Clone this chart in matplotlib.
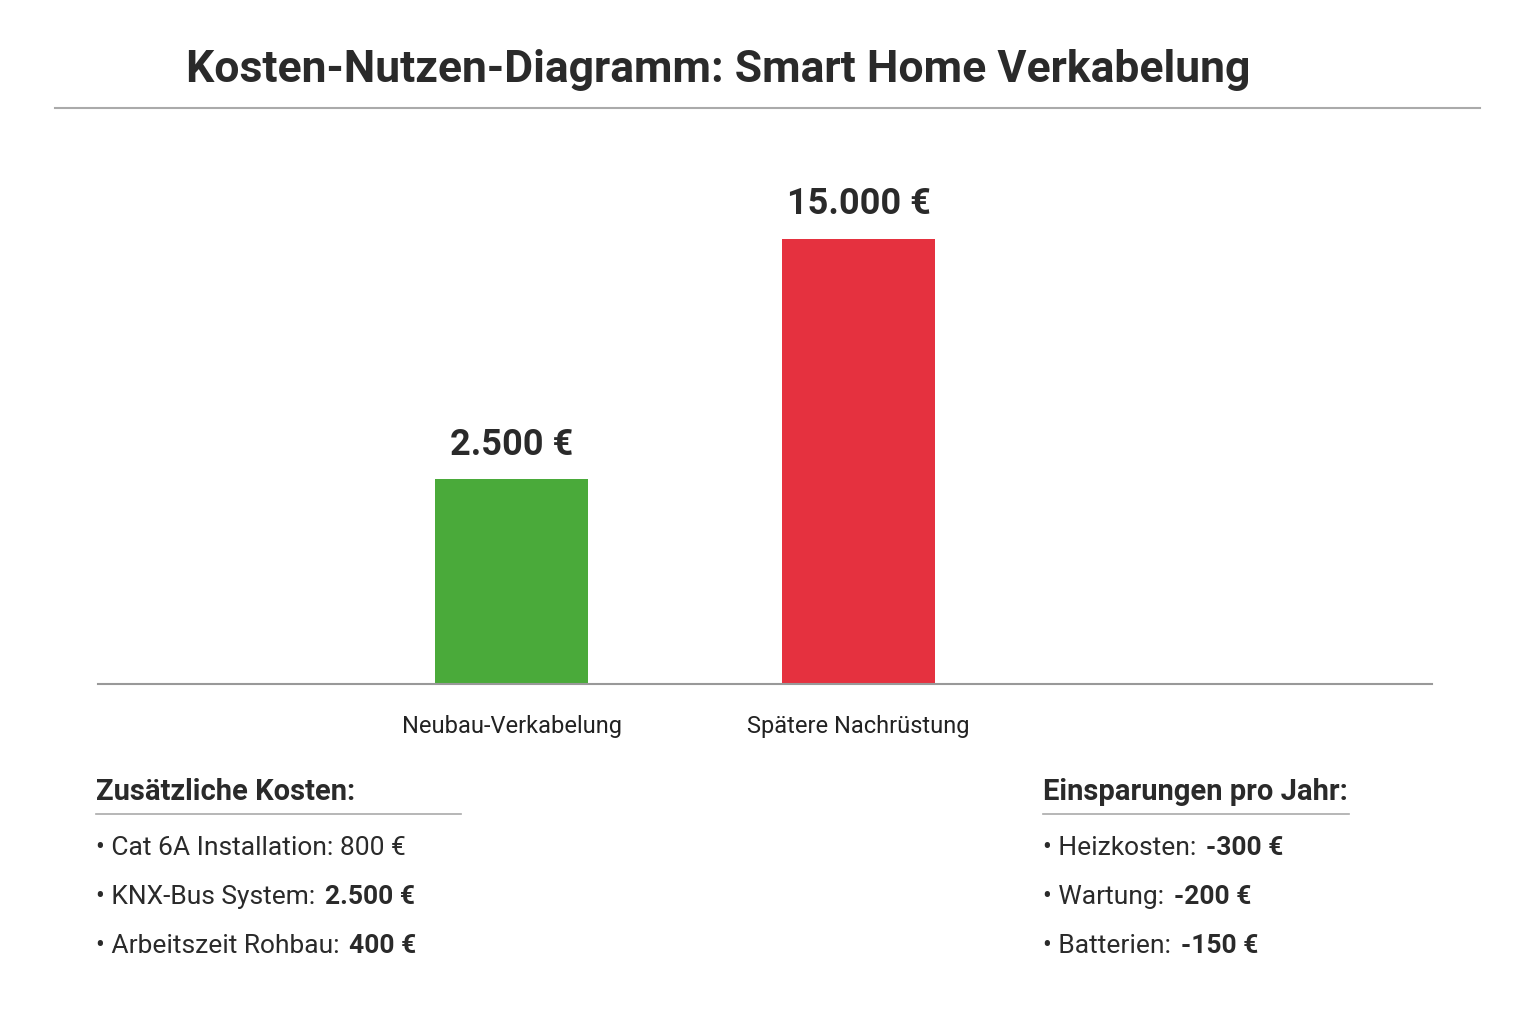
import matplotlib
matplotlib.use("Agg")
import matplotlib.pyplot as plt
import numpy as np
from matplotlib.lines import Line2D

plt.rcParams['font.family'] = ['Liberation Sans Narrow', 'Roboto', 'DejaVu Sans']

categories = ["Neubau-Verkabelung", "Spätere Nachrüstung"]
values = [2500, 15000]
value_labels = ["2.500 €", "15.000 €"]
colors = ["#4aaa3a", "#e5313f"]
title = "Kosten-Nutzen-Diagramm: Smart Home Verkabelung"
left_head = "Zusätzliche Kosten:"
left_items = [("• Cat 6A Installation: 800 €", ""), ("• KNX-Bus System: ", "2.500 €"), ("• Arbeitszeit Rohbau: ", "400 €")]
right_head = "Einsparungen pro Jahr:"
right_items = [("• Heizkosten: ", "-300 €"), ("• Wartung: ", "-200 €"), ("• Batterien: ", "-150 €")]

W, H = 1536, 1024
fig = plt.figure(figsize=(15.36, 10.24), dpi=100)
fig.patch.set_facecolor("white")
def fx(x): return x / W
def fy(y): return 1 - y / H

ax = fig.add_axes([fx(98), fy(684), fx(1432) - fx(98), (684 - 150) / H])
p = 0.433
ax.set_yscale('function', functions=(lambda v: np.sign(v) * np.abs(v) ** p, lambda v: np.sign(v) * np.abs(v) ** (1 / p)))
x = np.arange(len(values))
ax.bar(x, values, width=0.441, color=colors, zorder=2)
ax.set_xlim(-1.192, 2.652)
ax.set_ylim(0, 22860)
for s in ["top", "right", "left"]:
    ax.spines[s].set_visible(False)
ax.spines["bottom"].set_color("#999999")
ax.spines["bottom"].set_linewidth(1.5)
ax.set_yticks([])
ax.set_xticks(x)
ax.set_xticklabels(categories, fontsize=17, color="#222222")
ax.tick_params(axis="x", length=0, pad=22)
for xi, v, lab in zip(x, values, value_labels):
    ax.annotate(lab, (xi, v), xytext=(0, 12), textcoords="offset points", ha="center", va="bottom",
                fontsize=26, fontweight="bold", color="#2a2a2a")

fig.text(fx(718), fy(70), title, ha="center", va="center", fontsize=32, fontweight="bold", color="#2a2a2a")
fig.add_artist(Line2D([fx(55), fx(1480)], [fy(108), fy(108)], color="#aaaaaa", lw=1.5))

def block(x0, x1, head, items):
    fig.text(fx(x0), fy(792), head, ha="left", va="center", fontsize=21, fontweight="bold", color="#2a2a2a")
    fig.add_artist(Line2D([fx(x0), fx(x1)], [fy(814), fy(814)], color="#aaaaaa", lw=1.2))
    fig.canvas.draw()
    r = fig.canvas.get_renderer()
    for i, (a, b) in enumerate(items):
        yy = fy(848 + 49 * i)
        t = fig.text(fx(x0), yy, a, ha="left", va="center", fontsize=19, color="#2a2a2a")
        if b:
            bb = t.get_window_extent(renderer=r)
            fig.text(bb.x1 / W + 0.002, yy, b, ha="left", va="center", fontsize=19, fontweight="bold", color="#2a2a2a")

block(96, 461, left_head, left_items)
block(1043, 1349, right_head, right_items)

fig.savefig("out.png", dpi=100, facecolor="white")
